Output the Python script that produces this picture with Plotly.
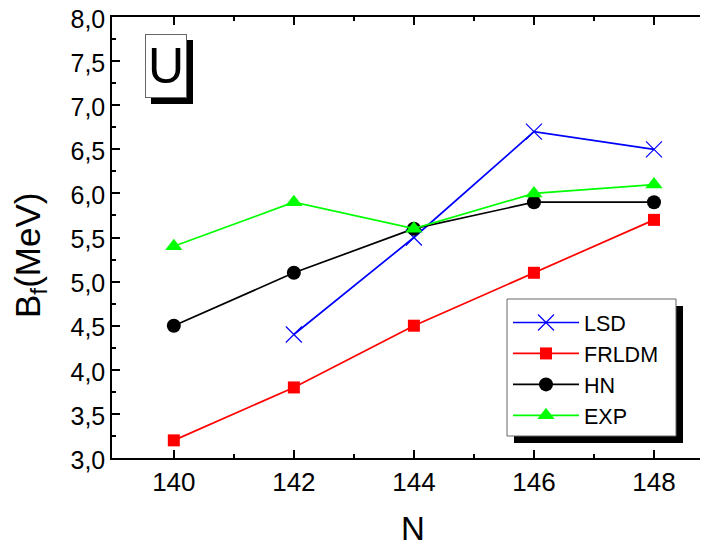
import plotly.graph_objects as go

N_lsd = [142, 144, 146, 148]
lsd = [4.4, 5.5, 6.7, 6.5]
N_all = [140, 142, 144, 146, 148]
frldm = [3.2, 3.8, 4.5, 5.1, 5.7]
hn = [4.5, 5.1, 5.6, 5.9, 5.9]
exp = [5.4, 5.9, 5.6, 6.0, 6.1]

# page body has an 8px margin; the figure is sized to fit the 708x547 window
OFF = 8
W, H = 708 - OFF, 547 - OFF
L, R, T, B = 112 - OFF, 0, 17 - OFF, 547 - 458
pw, ph = W - L - R, H - T - B

def px(xs, ys):
    """screen pixel -> paper coordinates"""
    return (xs - OFF - L) / pw, (H - B - (ys - OFF)) / ph

fig = go.Figure()
fig.add_trace(go.Scatter(x=N_lsd, y=lsd, name="LSD", mode="lines+markers",
                         line=dict(color="#0000FF", width=1.7),
                         marker=dict(symbol="x-thin-open", size=16, color="#0000FF",
                                     line=dict(color="#0000FF", width=1.2))))
fig.add_trace(go.Scatter(x=N_all, y=frldm, name="FRLDM", mode="lines+markers",
                         line=dict(color="#FF0000", width=1.7),
                         marker=dict(symbol="square", size=12, color="#FF0000")))
fig.add_trace(go.Scatter(x=N_all, y=hn, name="HN", mode="lines+markers",
                         line=dict(color="#000000", width=1.7),
                         marker=dict(symbol="circle", size=14, color="#000000")))
fig.add_trace(go.Scatter(x=N_all, y=exp, name="EXP", mode="lines+markers",
                         line=dict(color="#00FF00", width=1.7),
                         marker=dict(symbol="triangle-up", size=15, color="#00FF00")))

shapes = []
def rect(xa, ya, xb, yb, fill, line=None):
    x0, y0 = px(xa, yb)
    x1, y1 = px(xb, ya)
    shapes.append(dict(type="rect", xref="paper", yref="paper", x0=x0, y0=y0, x1=x1, y1=y1,
                       fillcolor=fill, line=line or dict(width=0), layer="above"))

# legend box with shadow
rect(514, 306, 683, 443, "black")
rect(507, 299, 676, 436, "white", dict(color="#666666", width=1))
# U box shadow
rect(151, 40, 193, 104, "black")

ux, uy = px(145, 34)
fig.add_annotation(xref="paper", yref="paper", x=ux, y=uy, xanchor="left", yanchor="top",
                   text="U", showarrow=False, font=dict(size=50, color="black", family="Liberation Sans"),
                   bgcolor="white", bordercolor="#666666", borderwidth=1, borderpad=0,
                   width=40, height=62)

# axis titles
tx, ty = px(30, 256)
fig.add_annotation(xref="paper", yref="paper", x=tx, y=ty, xanchor="center", yanchor="middle",
                   text="B<sub>f</sub>(MeV)", textangle=-90, showarrow=False,
                   font=dict(size=35, color="black", family="Liberation Sans"))
nx, ny = px(413, 528)
fig.add_annotation(xref="paper", yref="paper", x=nx, y=ny, xanchor="center", yanchor="middle",
                   text="N", showarrow=False,
                   font=dict(size=33, color="black", family="Liberation Sans"))

lx, ly = px(508, 302)
axis_common = dict(showline=True, linecolor="black", linewidth=1.5, mirror="ticks",
                   ticks="inside", ticklen=8, tickwidth=1.5, tickcolor="black",
                   showgrid=False, zeroline=False, automargin=False,
                   ticklabeloverflow="allow")
fig.update_layout(
    width=W, height=H, margin=dict(l=L, r=R, t=T, b=B),
    paper_bgcolor="white", plot_bgcolor="white",
    separators=",.",
    shapes=shapes,
    font=dict(family="Liberation Sans", color="black"),
    legend=dict(x=lx, y=ly, xanchor="left", yanchor="top", bgcolor="rgba(0,0,0,0)",
                borderwidth=0, itemwidth=66, tracegroupgap=0,
                font=dict(size=21.5, family="Liberation Sans", color="black")),
    xaxis=dict(range=[138.97, 148.9], tickvals=[140, 142, 144, 146, 148],
               minor=dict(tickvals=[141, 143, 145, 147], ticks="inside", ticklen=4, tickwidth=1.5, tickcolor="black"),
               tickfont=dict(size=26, color="black", family="Liberation Sans"),
               **axis_common),
    yaxis=dict(range=[3.0, 8.0], dtick=0.5, tickformat=".1f", ticklabelshift=2,
               minor=dict(dtick=0.25, ticks="inside", ticklen=4, tickwidth=1.5, tickcolor="black"),
               tickfont=dict(size=25, color="black", family="Liberation Sans"),
               **axis_common),
)
fig.write_html("out.html")
